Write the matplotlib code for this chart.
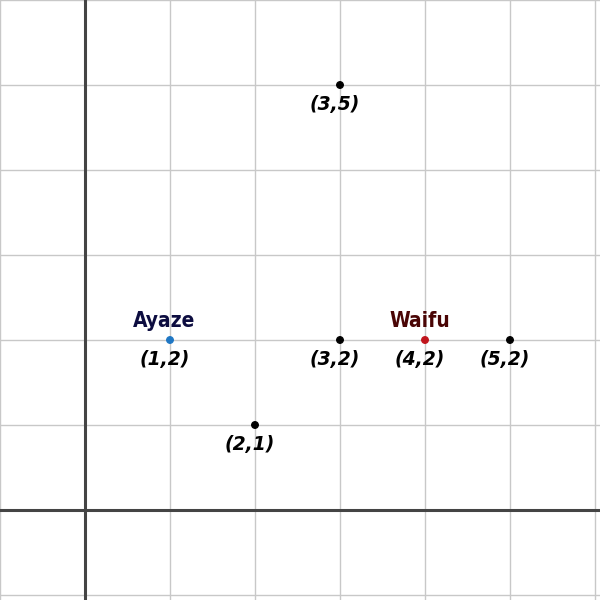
import matplotlib.pyplot as plt

# points (x, y)
pts_x = [1, 2, 3, 3, 4, 5]
pts_y = [2, 1, 2, 5, 2, 2]
pt_colors = ['#1f77c4', 'black', 'black', 'black', '#c0141c', 'black']

# named points
names = ['Ayaze', 'Waifu']
name_x = [1, 4]
name_y = [2, 2]
name_colors = ['#0d0d40', '#4a0505']

fig = plt.figure(figsize=(6, 6), dpi=100)
ax = fig.add_axes([0, 0, 1, 1])

ax.set_xlim(-1, 515 / 85)
ax.set_ylim(-90 / 85, 6)

for v in range(-1, 7):
    ax.axvline(v, color='#c8c8c8', lw=1, zorder=0)
    ax.axhline(v, color='#c8c8c8', lw=1, zorder=0)
ax.axvline(0, color='#444444', lw=2.2, zorder=1)
ax.axhline(0, color='#444444', lw=2.2, zorder=1)

ax.scatter(pts_x, pts_y, c=pt_colors, s=22, zorder=3)

for x, y in zip(pts_x, pts_y):
    ax.annotate(f"({x},{y})", (x, y), xytext=(-4, -14), textcoords='offset points',
                ha='center', va='center', fontsize=13.5, fontweight='heavy',
                fontstyle='italic', color='black')

for n, x, y, c in zip(names, name_x, name_y, name_colors):
    ax.annotate(n, (x, y), xytext=(-4, 14), textcoords='offset points',
                ha='center', va='center', fontsize=15, fontweight='heavy',
                fontstretch='condensed', color=c)

ax.axis('off')
fig.savefig('out.png', dpi=100)
